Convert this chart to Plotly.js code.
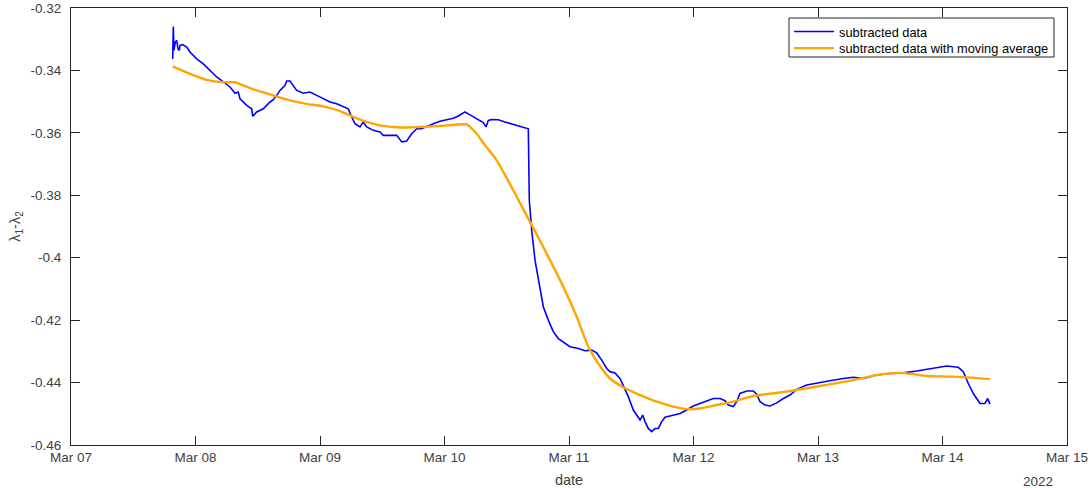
<!DOCTYPE html>
<html>
<head>
<meta charset="utf-8">
<script src="https://cdn.plot.ly/plotly-3.0.1.min.js"></script>
<style>html,body{margin:0;padding:0;background:#fff;}#chart{width:1090px;height:488px;}</style>
</head>
<body>
<div id="chart"></div>
<script>
// x values: days since 2022-03-07 00:00
const blueDays = [0.8169,0.8217,0.8273,0.8378,0.8490,0.8594,0.8699,0.8755,0.8972,0.9293,0.9558,1.0096,1.0627,1.1165,1.1703,1.2233,1.2771,1.3173,1.3438,1.3574,1.4112,1.4514,1.4594,1.4916,1.5446,1.5984,1.6249,1.6522,1.6787,1.7189,1.7325,1.7590,1.7855,1.8129,1.8659,1.9197,1.9735,2.0265,2.0803,2.1341,2.1871,2.2273,2.2546,2.2811,2.3213,2.3478,2.3751,2.4281,2.4819,2.5084,2.5622,2.6161,2.6562,2.6964,2.7365,2.7767,2.8169,2.8570,2.9100,2.9639,3.0177,3.0707,3.1108,3.1382,3.1647,3.1912,3.2313,3.2715,3.3116,3.3333,3.3518,3.3791,3.4321,3.4859,3.5526,3.6064,3.6731,3.6811,3.7004,3.7269,3.7534,3.7936,3.8337,3.8739,3.9141,3.9542,4.0080,4.0747,4.1285,4.1823,4.2225,4.2627,4.3028,4.3293,4.3695,4.4096,4.4498,4.4763,4.5165,4.5438,4.5703,4.5920,4.6104,4.6369,4.6643,4.6908,4.7173,4.7446,4.7711,4.8112,4.8514,4.8916,4.9454,4.9984,5.0522,5.1060,5.1590,5.2129,5.2530,5.2795,5.3197,5.3470,5.3735,5.4273,5.4803,5.5076,5.5341,5.5743,5.6145,5.6683,5.7213,5.7751,5.8289,5.9092,5.9895,6.0964,6.2032,6.2835,6.3639,6.4715,6.5783,6.6851,6.7928,6.9261,7.0337,7.1269,7.1671,7.2072,7.2474,7.3012,7.3414,7.3631,7.3815];
const blueVals = [-0.3363,-0.3259,-0.3336,-0.3309,-0.3304,-0.3331,-0.3336,-0.3320,-0.3317,-0.3325,-0.3341,-0.3363,-0.3379,-0.3400,-0.3421,-0.3437,-0.3453,-0.3473,-0.3469,-0.3491,-0.3512,-0.3523,-0.3547,-0.3533,-0.3523,-0.3501,-0.3494,-0.3480,-0.3464,-0.3448,-0.3434,-0.3434,-0.3448,-0.3464,-0.3473,-0.3469,-0.3480,-0.3491,-0.3501,-0.3507,-0.3517,-0.3523,-0.3549,-0.3571,-0.3581,-0.3565,-0.3581,-0.3592,-0.3597,-0.3608,-0.3608,-0.3608,-0.3629,-0.3626,-0.3603,-0.3587,-0.3587,-0.3579,-0.3571,-0.3563,-0.3558,-0.3553,-0.3546,-0.3539,-0.3533,-0.3539,-0.3549,-0.3557,-0.3567,-0.3581,-0.3560,-0.3557,-0.3558,-0.3565,-0.3573,-0.3579,-0.3587,-0.3816,-0.3912,-0.4008,-0.4072,-0.4157,-0.4200,-0.4237,-0.4259,-0.4269,-0.4285,-0.4291,-0.4298,-0.4296,-0.4305,-0.4328,-0.4355,-0.4365,-0.4369,-0.4387,-0.4419,-0.4445,-0.4488,-0.4504,-0.4520,-0.4504,-0.4525,-0.4547,-0.4557,-0.4547,-0.4547,-0.4525,-0.4511,-0.4507,-0.4504,-0.4499,-0.4488,-0.4475,-0.4467,-0.4458,-0.4451,-0.4451,-0.4458,-0.4472,-0.4477,-0.4461,-0.4435,-0.4427,-0.4427,-0.4437,-0.4461,-0.4472,-0.4475,-0.4465,-0.4451,-0.4440,-0.4422,-0.4408,-0.4403,-0.4394,-0.4387,-0.4383,-0.4387,-0.4376,-0.4371,-0.4369,-0.4363,-0.4355,-0.4347,-0.4351,-0.4365,-0.4403,-0.4435,-0.4467,-0.4467,-0.4451,-0.4469];

const orangeDays = [0.8169,0.9558,1.0900,1.2233,1.3173,1.3839,1.4916,1.6249,1.7590,1.8932,2.0265,2.1606,2.2675,2.3751,2.4819,2.5888,2.6964,2.8032,2.9639,3.1783,3.2048,3.2586,3.3253,3.4193,3.5526,3.6867,3.8209,3.9542,4.0618,4.1550,4.2490,4.3293,4.4361,4.5703,4.7044,4.8378,4.9454,5.0522,5.1863,5.3197,5.4803,5.7486,6.0161,6.2835,6.4715,6.6586,6.7655,6.8731,7.0867,7.3815];
const orangeVals = [-0.3387,-0.3411,-0.3430,-0.3438,-0.3438,-0.3448,-0.3464,-0.3480,-0.3496,-0.3507,-0.3515,-0.3530,-0.3549,-0.3565,-0.3576,-0.3581,-0.3583,-0.3581,-0.3578,-0.3573,-0.3581,-0.3603,-0.3640,-0.3688,-0.3784,-0.3885,-0.3987,-0.4093,-0.4189,-0.4285,-0.4347,-0.4387,-0.4415,-0.4440,-0.4461,-0.4477,-0.4485,-0.4483,-0.4472,-0.4461,-0.4443,-0.4429,-0.4411,-0.4392,-0.4376,-0.4369,-0.4373,-0.4379,-0.4381,-0.4389];

const xTickVals = ['2022-03-07','2022-03-08','2022-03-09','2022-03-10','2022-03-11','2022-03-12','2022-03-13','2022-03-14','2022-03-15'];
const xTickText = ['Mar 07','Mar 08','Mar 09','Mar 10','Mar 11','Mar 12','Mar 13','Mar 14','Mar 15'];
const yTickVals = [-0.46,-0.44,-0.42,-0.40,-0.38,-0.36,-0.34,-0.32];
const yTickText = ['-0.46','-0.44','-0.42','-0.4','-0.38','-0.36','-0.34','-0.32'];
const seriesNames = ['subtracted data','subtracted data with moving average'];

function toDate(d){
  const ms = Date.UTC(2022,2,7) + Math.round(d*86400000);
  return new Date(ms).toISOString().replace('T',' ').slice(0,19);
}

const FONT = 'Liberation Sans, Arial, Helvetica, sans-serif';
const AX = '#262626';
const TXT = '#404040';

const traces = [
  {x: blueDays.map(toDate), y: blueVals, type:'scatter', mode:'lines', name: seriesNames[0],
   line:{color:'#0000ff', width:1.6}, legend:'legend'},
  {x: orangeDays.map(toDate), y: orangeVals, type:'scatter', mode:'lines', name: seriesNames[1],
   line:{color:'#ffa500', width:2.4, shape:'spline', smoothing:0.6}, legend:'legend2'}
];

// plot area in px: x 71..1067, y 8..445
const PW = 996, PH = 437;
function px2x(p){ return (p-71)/PW; }
function py2y(p){ return (445-p)/PH; }

const legFont = {family:FONT, size:12.8, color:'#000'};
const layout = {
  width:1090, height:488,
  margin:{l:71, r:23, t:8, b:43, pad:0},
  paper_bgcolor:'#fff', plot_bgcolor:'#fff',
  font:{family:FONT, size:13.5, color:TXT},
  showlegend:true,
  legend:{x:px2x(789), xanchor:'left', y:py2y(31.7), yanchor:'middle', bgcolor:'rgba(0,0,0,0)',
    borderwidth:0, font:legFont, itemwidth:40},
  legend2:{x:px2x(789), xanchor:'left', y:py2y(48.3), yanchor:'middle', bgcolor:'rgba(0,0,0,0)',
    borderwidth:0, font:legFont, itemwidth:40},
  shapes:[{type:'rect', xref:'paper', yref:'paper', x0:px2x(789), x1:px2x(1054),
    y0:py2y(57), y1:py2y(18), line:{color:AX, width:1}, fillcolor:'#fff', layer:'below'}],
  xaxis:{type:'date', range:['2022-03-07','2022-03-15'], tickmode:'array',
    tickvals:xTickVals, ticktext:xTickText, showgrid:false, zeroline:false,
    showline:true, linecolor:AX, linewidth:1, mirror:'ticks', ticks:'inside',
    ticklen:9, tickcolor:AX, tickwidth:1, tickfont:{size:13.5, color:TXT},
    title:{text:'date', font:{size:14.5, color:TXT}, standoff:11}},
  yaxis:{range:[-0.46,-0.32], tickmode:'array', tickvals:yTickVals, ticktext:yTickText,
    showgrid:false, zeroline:false, showline:true, linecolor:AX, linewidth:1,
    mirror:'ticks', ticks:'inside', ticklen:9, tickcolor:AX, tickwidth:1,
    tickfont:{size:13.5, color:TXT}, ticklabelstandoff:6,
    title:{text:'λ<sub>1</sub>-λ<sub>2</sub>', font:{size:14.5, color:TXT}, standoff:6}},
  annotations:[{text:'2022', xref:'paper', yref:'paper', x:0.971, y:-0.0824,
    xanchor:'center', yanchor:'middle', showarrow:false, font:{size:13.5, color:TXT}}]
};

Plotly.newPlot('chart', traces, layout, {displayModeBar:false, staticPlot:true});
</script>
</body>
</html>
